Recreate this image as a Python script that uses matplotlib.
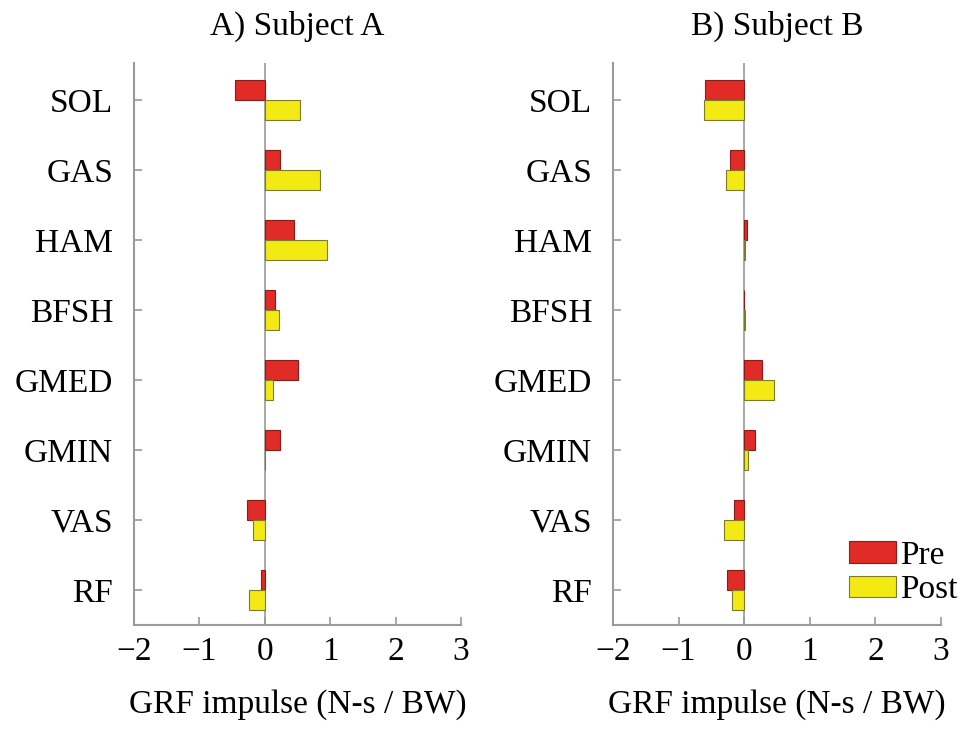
import matplotlib
matplotlib.use("Agg")
import matplotlib.pyplot as plt
import numpy as np

muscles = ["SOL", "GAS", "HAM", "BFSH", "GMED", "GMIN", "VAS", "RF"]

# GRF impulse (N-s / BW)
subject_a_pre = [-0.46, 0.24, 0.44, 0.16, 0.51, 0.235, -0.265, -0.065]
subject_a_post = [0.545, 0.84, 0.95, 0.22, 0.13, 0.005, -0.18, -0.245]
subject_b_pre = [-0.60, -0.21, 0.05, 0.003, 0.265, 0.17, -0.16, -0.265]
subject_b_post = [-0.61, -0.27, 0.02, 0.008, 0.45, 0.06, -0.31, -0.18]

titles = ["A) Subject A", "B) Subject B"]
xticks = [-2, -1, 0, 1, 2, 3]

red = "#e02b26"
yellow = "#f2ea12"
grey = "#9a9a9a"

plt.rcParams["font.family"] = ["Liberation Serif", "DejaVu Serif"]
plt.rcParams["font.size"] = 24


def make_panel(ax, title, pre, post, show_legend=False):
    y_pos = np.arange(len(muscles))
    h = 0.29
    ax.barh(y_pos - h / 2, pre, height=h, color=red, edgecolor="#8a1d1a",
            linewidth=0.8, label="Pre", zorder=3)
    ax.barh(y_pos + h / 2, post, height=h, color=yellow, edgecolor="#7d7a2a",
            linewidth=0.8, label="Post", zorder=3)
    ax.axvline(0, color=grey, lw=1.2, zorder=2)

    ax.set_xlim(-2, 3)
    ax.set_ylim(len(muscles) - 0.5, -0.53)
    ax.set_xticks(xticks)
    ax.set_xticklabels([str(t).replace("-", "\u2212") for t in xticks])
    ax.set_yticks(y_pos)
    ax.set_yticklabels(muscles)

    for side in ["top", "right"]:
        ax.spines[side].set_visible(False)
    for side in ["left", "bottom"]:
        ax.spines[side].set_color(grey)
        ax.spines[side].set_linewidth(1.5)

    ax.tick_params(axis="x", direction="in", length=6, width=1.2, color=grey, pad=8)
    ax.tick_params(axis="y", direction="in", length=6, width=1.2, color=grey, pad=15)

    ax.set_title(title, fontsize=24, pad=20)
    ax.set_xlabel("GRF impulse (N-s / BW)", fontsize=24, labelpad=16)

    if show_legend:
        ax.legend(loc="lower left", bbox_to_anchor=(0.72, 0.035), frameon=False,
                  handlelength=1.42, handleheight=0.62, handletextpad=0.12,
                  labelspacing=0.12, borderpad=0, borderaxespad=0, fontsize=24)


fig = plt.figure(figsize=(9.67, 7.29), dpi=100)
ax1 = fig.add_axes([0.1386, 0.1427, 0.3381, 0.7709])
ax2 = fig.add_axes([0.6339, 0.1427, 0.3392, 0.7709])

make_panel(ax1, titles[0], subject_a_pre, subject_a_post)
make_panel(ax2, titles[1], subject_b_pre, subject_b_post, show_legend=True)

plt.savefig("out.png", dpi=100)
